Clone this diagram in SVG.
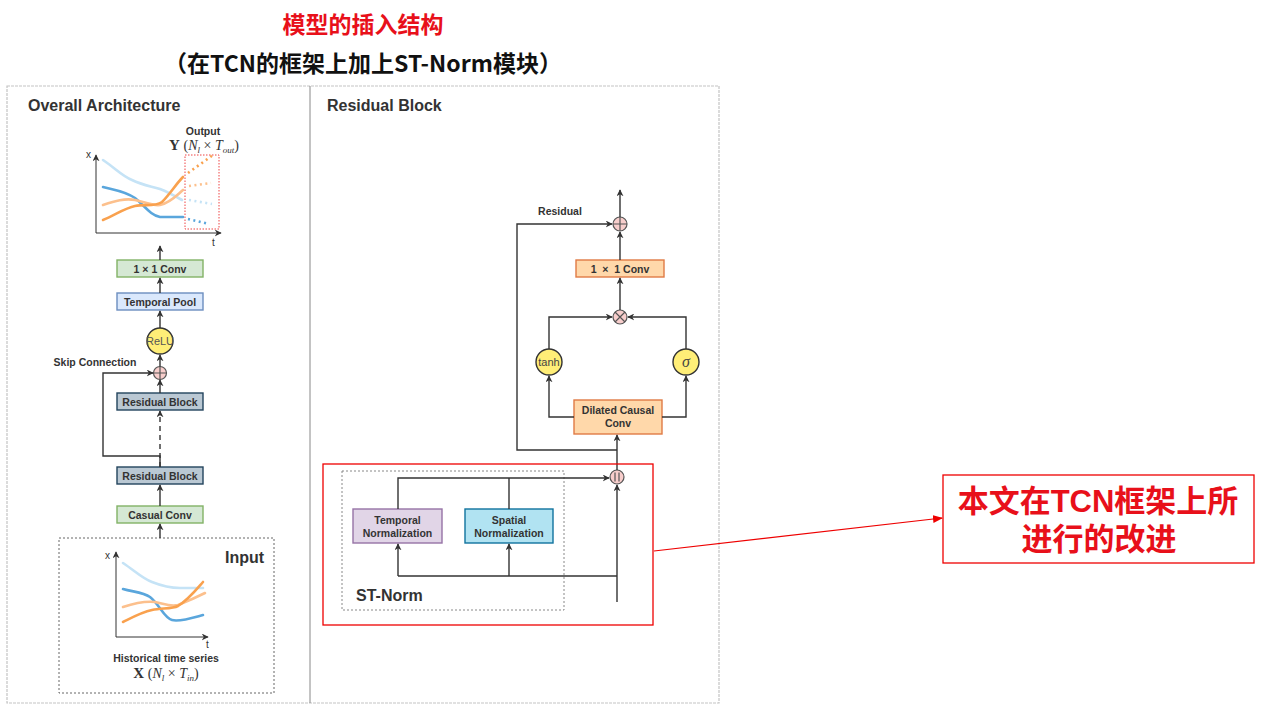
<svg xmlns="http://www.w3.org/2000/svg" width="1276" height="716" viewBox="0 0 1276 716">
<defs>
<marker id="arr" viewBox="0 0 10 10" refX="9" refY="5" markerWidth="7" markerHeight="7" orient="auto" markerUnits="userSpaceOnUse">
<path d="M0,0 L10,5 L0,10 L3,5 z" fill="#333"/>
</marker>
<marker id="arrRed" viewBox="0 0 10 10" refX="9" refY="5" markerWidth="10" markerHeight="10" orient="auto" markerUnits="userSpaceOnUse">
<path d="M0,1 L10,5 L0,9 z" fill="#e00"/>
</marker>
<style>
.ln{fill:none;stroke:#333;stroke-width:1.4}
.la{fill:none;stroke:#333;stroke-width:1.4;marker-end:url(#arr)}
.bt{font-family:"Liberation Sans",Arial,sans-serif;font-weight:bold;font-size:10.5px;fill:#333;text-anchor:middle}
.hd{font-family:"Liberation Sans",Arial,sans-serif;font-weight:bold;font-size:16px;fill:#333}
.ax{fill:none;stroke:#333;stroke-width:1}
.c{fill:none;stroke-width:2.6;stroke-linecap:round;stroke-linejoin:round}
.cd{fill:none;stroke-width:2.6;stroke-dasharray:2 3.5}
.math{font-family:"Liberation Serif","Times New Roman",serif;font-size:14px;fill:#333;text-anchor:middle}
.green{fill:#d5e8d4;stroke:#82b366;stroke-width:1.4}
.blue{fill:#dae8fc;stroke:#6c8ebf;stroke-width:1.4}
.rb{fill:#bac8d3;stroke:#23445d;stroke-width:1.4}
.org{fill:#ffd8aa;stroke:#e07b45;stroke-width:1.4}
.yel{fill:#ffee77;stroke:#333;stroke-width:1.4}
.pink{fill:#f8cecc;stroke:#555;stroke-width:1.2}
.cjk{font-family:"Noto Sans CJK SC",sans-serif;font-weight:bold;text-anchor:middle}
.call{font-family:"Liberation Sans","Noto Sans CJK SC",sans-serif;font-weight:bold;text-anchor:middle;font-size:31px;fill:#e8101a}
</style>
</defs>
<rect width="1276" height="716" fill="#fff"/>

<!-- Titles -->
<g id="title">
<text class="cjk" x="363" y="33" font-size="23" fill="#e8101a">模型的插入结构</text>
<text class="cjk" x="363" y="72" font-size="23" fill="#111">（在TCN的框架上加上ST-Norm模块）</text>
</g>

<!-- Frame -->
<g id="frame">
<rect x="7" y="86" width="712" height="617" fill="none" stroke="#c4c4c4" stroke-width="1.2" stroke-dasharray="3 1"/>
<line x1="310" y1="86" x2="310" y2="703" stroke="#888" stroke-width="1"/>
<text class="hd" x="28" y="111">Overall Architecture</text>
<text class="hd" x="327" y="111">Residual Block</text>
</g>

<!-- Output chart -->
<g id="output-chart">
<text class="bt" x="203" y="135" font-size="11.5">Output</text>
<text class="math" x="204" y="150"><tspan font-weight="bold" font-size="15">Y</tspan> (<tspan font-style="italic">N</tspan><tspan font-style="italic" font-size="9" dy="3">l</tspan><tspan dy="-3"> × </tspan><tspan font-style="italic">T</tspan><tspan font-style="italic" font-size="9" dy="3">out</tspan><tspan dy="-3">)</tspan></text>
<rect x="185" y="155" width="34" height="74" fill="none" stroke="#ee4444" stroke-width="1" stroke-dasharray="1.5 1.5"/>
<path class="c" stroke="#c5e3f6" d="M103,160 C115,168 122,176 132,180 C142,185 150,186 160,189 C168,192 175,196 182,200"/>
<path class="c" stroke="#5aa6dc" d="M103,187 C115,190 125,191 135,198 C145,206 150,215 160,217 L183,217"/>
<path class="c" stroke="#fcc08d" d="M103,205 C115,201 125,198 135,200 C145,202 152,206 160,205 C170,203 177,195 183,190"/>
<path class="c" stroke="#f9a14e" d="M103,220 C115,215 125,208 135,206 C145,204 155,207 162,202 C170,194 176,184 183,177"/>
<path class="cd" stroke="#c5e3f6" d="M189,200 L212,204"/>
<path class="cd" stroke="#5aa6dc" d="M188,219 L209,224"/>
<path class="cd" stroke="#fcc08d" d="M189,186 L211,183"/>
<path class="cd" stroke="#f9a14e" d="M188,173 L213,155"/>
<line class="ax" x1="96" y1="233" x2="96" y2="155" marker-end="url(#arr)"/>
<line class="ax" x1="96" y1="233" x2="221" y2="233" marker-end="url(#arr)"/>
<text x="86" y="158" font-family="Liberation Sans,Arial,sans-serif" font-size="10" fill="#333">x</text>
<text x="212" y="246" font-family="Liberation Sans,Arial,sans-serif" font-size="10" fill="#333">t</text>
</g>

<!-- Left nodes -->
<g id="conv1x1-left">
<rect class="green" x="117" y="260" width="86" height="17"/>
<text class="bt" x="160" y="272.5">1 × 1 Conv</text>
</g>
<g id="temporal-pool">
<rect class="blue" x="117" y="293" width="86" height="17"/>
<text class="bt" x="160" y="305.5">Temporal Pool</text>
</g>
<g id="relu">
<circle class="yel" cx="160" cy="341" r="13"/>
<text x="160" y="345" text-anchor="middle" font-family="Liberation Sans,Arial,sans-serif" font-size="11" fill="#555">ReLU</text>
</g>
<g id="sum-left">
<circle class="pink" cx="160" cy="373" r="6.5"/>
<path d="M153.5,373 H166.5 M160,366.5 V379.5" stroke="#555" stroke-width="1.2"/>
</g>
<g id="residual-block-2">
<rect class="rb" x="117" y="393" width="86" height="17"/>
<text class="bt" x="160" y="405.5" font-size="11">Residual Block</text>
</g>
<g id="residual-block-1">
<rect class="rb" x="117" y="467" width="86" height="17"/>
<text class="bt" x="160" y="479.5" font-size="11">Residual Block</text>
</g>
<g id="casual-conv">
<rect class="green" x="117" y="506" width="86" height="17"/>
<text class="bt" x="160" y="518.5" font-size="11">Casual Conv</text>
</g>
<text class="bt" x="95" y="366" font-size="10">Skip Connection</text>

<!-- Input -->
<g id="input">
<rect x="59" y="538" width="215" height="155" fill="none" stroke="#666" stroke-width="1" stroke-dasharray="2 2"/>
<text class="hd" x="225" y="563">Input</text>
<path class="c" stroke="#c5e3f6" d="M123,563 C135,571 143,579 152,582 C162,586 170,588 180,588 L203,588"/>
<path class="c" stroke="#5aa6dc" d="M123,589 C133,592 143,592 150,597 C160,605 164,618 172,620 C180,622 192,618 203,615"/>
<path class="c" stroke="#fcc08d" d="M123,607 C135,603 145,601 155,602 C165,604 170,607 178,605 C188,601 197,597 205,593"/>
<path class="c" stroke="#f9a14e" d="M123,622 C133,617 142,612 152,610 C162,608 172,609 178,606 C188,600 196,590 203,582"/>
<line class="ax" x1="116" y1="637" x2="116" y2="552" marker-end="url(#arr)"/>
<line class="ax" x1="116" y1="637" x2="208" y2="637" marker-end="url(#arr)"/>
<text x="105" y="559" font-family="Liberation Sans,Arial,sans-serif" font-size="10" fill="#333">x</text>
<text x="206" y="648" font-family="Liberation Sans,Arial,sans-serif" font-size="10" fill="#333">t</text>
<text class="bt" x="166" y="662" font-size="12">Historical time series</text>
<text class="math" x="166" y="678"><tspan font-weight="bold" font-size="15">X</tspan> (<tspan font-style="italic">N</tspan><tspan font-style="italic" font-size="9" dy="3">l</tspan><tspan dy="-3"> × </tspan><tspan font-style="italic">T</tspan><tspan font-style="italic" font-size="9" dy="3">in</tspan><tspan dy="-3">)</tspan></text>
</g>

<!-- Right nodes -->
<g id="sum-right">
<circle class="pink" cx="620" cy="224" r="7"/>
<path d="M613,224 H627 M620,217 V231" stroke="#555" stroke-width="1.2"/>
</g>
<text class="bt" x="560" y="215" font-size="10">Residual</text>
<g id="conv1x1-right">
<rect class="org" x="576" y="260" width="88" height="17"/>
<text class="bt" x="620" y="272.5" font-size="10.5" xml:space="preserve">1  ×  1 Conv</text>
</g>
<g id="mult">
<circle class="pink" cx="620" cy="317" r="7"/>
<path d="M615,312 L625,322 M625,312 L615,322" stroke="#555" stroke-width="1.2"/>
</g>
<g id="tanh">
<circle class="yel" cx="549" cy="362" r="13"/>
<text x="549" y="366" text-anchor="middle" font-family="Liberation Sans,Arial,sans-serif" font-size="11" fill="#444">tanh</text>
</g>
<g id="sigma">
<circle class="yel" cx="686" cy="362" r="13"/>
<text x="686" y="367" text-anchor="middle" font-family="Liberation Serif,serif" font-style="italic" font-size="16" fill="#444">σ</text>
</g>
<g id="dilated-conv">
<rect class="org" x="574" y="400" width="88" height="34"/>
<text class="bt" x="618" y="414">Dilated Causal</text>
<text class="bt" x="618" y="427">Conv</text>
</g>
<g id="concat">
<circle class="pink" cx="617" cy="477" r="7"/>
<path d="M615,472.5 V481.5 M619,472.5 V481.5" stroke="#555" stroke-width="1.2"/>
</g>
<g id="st-norm">
<rect x="342" y="471" width="222" height="139" fill="none" stroke="#888" stroke-width="1" stroke-dasharray="2 2"/>
<text class="hd" x="356" y="601">ST-Norm</text>
</g>
<g id="temporal-norm">
<rect x="353" y="509" width="89" height="34" fill="#e1d5e7" stroke="#9673a6" stroke-width="1.4"/>
<text class="bt" x="397.5" y="524" font-size="10">Temporal</text>
<text class="bt" x="397.5" y="537" font-size="10">Normalization</text>
</g>
<g id="spatial-norm">
<rect x="465" y="509" width="88" height="34" fill="#b1e3f2" stroke="#10739e" stroke-width="1.4"/>
<text class="bt" x="509" y="524" font-size="10">Spatial</text>
<text class="bt" x="509" y="537" font-size="10">Normalization</text>
</g>

<!-- Connectors -->
<g id="connectors">
<line class="la" x1="160" y1="260" x2="160" y2="246"/>
<line class="la" x1="160" y1="293" x2="160" y2="278"/>
<line class="la" x1="160" y1="328" x2="160" y2="311"/>
<line class="la" x1="160" y1="366.5" x2="160" y2="355"/>
<line class="la" x1="160" y1="393" x2="160" y2="380"/>
<line class="la" x1="160" y1="467" x2="160" y2="411" stroke-dasharray="5 4"/>
<path class="la" d="M160,467 V456 H103 V373 H153"/>
<line class="la" x1="160" y1="506" x2="160" y2="485"/>
<line class="la" x1="160" y1="538" x2="160" y2="524"/>

<line class="la" x1="620" y1="217" x2="620" y2="190"/>
<line class="la" x1="620" y1="260" x2="620" y2="232"/>
<line class="la" x1="620" y1="310" x2="620" y2="278"/>
<path class="la" d="M549,349 V317 H612"/>
<path class="la" d="M686,349 V317 H628"/>
<path class="la" d="M574,417 H549 V376"/>
<path class="la" d="M662,417 H686 V376"/>
<line class="la" x1="617" y1="470" x2="617" y2="435"/>
<path class="la" d="M617,450 H517 V224 H612"/>
<line class="la" x1="617" y1="602" x2="617" y2="485"/>
<path class="ln" d="M617,576 H398"/>
<line class="la" x1="398" y1="576" x2="398" y2="544"/>
<line class="la" x1="509" y1="576" x2="509" y2="544"/>
<path class="la" d="M398,509 V478 H609"/>
<line class="ln" x1="509" y1="509" x2="509" y2="478"/>
</g>

<!-- Callout -->
<g id="callout">
<rect x="323" y="464" width="330" height="161" fill="none" stroke="#e00" stroke-width="1.3"/>
<line x1="654" y1="551" x2="942" y2="518" stroke="#e00" stroke-width="1.1" marker-end="url(#arrRed)"/>
<rect x="943" y="475" width="311" height="88" fill="none" stroke="#e00" stroke-width="1.3"/>
<text class="call" x="1098" y="512">本文在TCN框架上所</text>
<text class="call" x="1099" y="550">进行的改进</text>
</g>
</svg>
